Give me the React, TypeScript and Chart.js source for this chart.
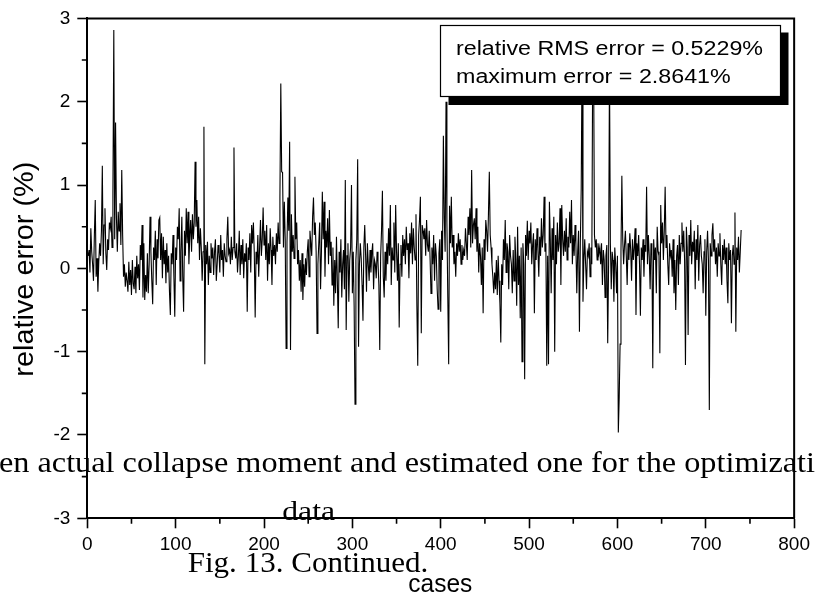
import React, { useEffect, useRef } from "react";
import { Chart, registerables } from "chart.js";

Chart.register(...registerables);

// relative error (%) for cases 1..740
const errorsA = [
  0.15, 0.22, -0.05, 0.48, 0.20, 0.05, -0.15, 0.40, 0.82, -0.10, 0.12, -0.28, 0.08, 0.30, 0.15, 0.45, 1.23, 0.05, 0.52, 0.72,
  0.18, -0.02, 0.35, 0.22, 0.55, 0.48, 0.62, 0.25, 0.90, 2.86, 0.35, 1.75, 0.60, 0.20, 0.68, 0.45, 0.78, 0.28, 1.18, 0.40,
  -0.10, 0.05, -0.22, -0.05, -0.15, -0.28, 0.08, -0.20, -0.02, -0.32, 0.10, -0.18, -0.25, 0.02, -0.30, 0.15, -0.12, 0.05, -0.26, 0.28,
  0.10, 0.52, -0.35, 0.30, -0.38, -0.08, -0.28, 0.18, -0.30, 0.05, 0.62, 0.20, -0.15, -0.43, 0.25, 0.10, 0.45, -0.20, 0.35, 0.12,
  0.58, 0.61, 0.10, 0.42, -0.12, 0.38, 0.05, 0.22, -0.18, 0.30, -0.05, 0.15, -0.28, -0.56, 0.18, 0.05, 0.40, -0.10, -0.58, 0.25,
  0.10, 0.50, 0.35, 0.72, -0.15, 0.20, 0.62, -0.10, -0.52, 0.45, 0.15, 0.72, 0.30, 0.68, 0.05, 0.40, 0.58, 0.20, 0.65, 0.35,
  0.55, 1.28, 0.50, 0.82, 0.30, 0.62, 0.10, 0.48, 0.25, -0.15, 0.20, 1.70, -1.15, 0.28, 0.05, 0.32, -0.20, 0.15, -0.05, 0.30,
  0.12, 0.25, -0.08, 0.20, 0.35, -0.15, 0.05, 0.28, 0.18, -0.05, 0.40, 0.10, 0.22, -0.10, 0.30, 0.15, 0.08, 0.35, 0.62, 0.18,
  0.22, 0.05, 0.38, 0.10, 0.25, 1.45, 0.20, 0.12, 0.30, -0.05, 0.15, 0.45, -0.08, 0.28, 0.05, 0.35, -0.12, 0.18, 0.08, 0.30,
  -0.52, 0.25, 0.10, 0.42, -0.05, 0.52, 0.30, 0.55, 0.18, -0.59, 0.20, 0.05, 0.40, -0.10, 0.25, 0.58, 0.15, 0.35, 0.73, 0.28,
];
const errorsB = [
  0.45, 0.10, 0.52, -0.15, 0.30, 0.05, 0.48, 0.22, -0.20, 0.38, 0.15, 0.28, 0.05, 0.42, 0.20, 0.55, 0.30, 0.85, 2.22, 1.16,
  1.15, 0.25, 0.80, 0.35, -0.96, 0.30, 0.85, 0.45, 1.52, -0.98, 0.65, 0.20, 0.40, 0.12, 1.10, 0.35, 0.55, 0.05, 0.22, -0.15,
  0.10, -0.28, 0.18, -0.38, 0.05, -0.22, 0.12, -0.08, 0.20, 0.35, -0.10, 0.45, 0.30, 0.15, 0.62, 0.85, 0.40, 0.55, 0.20, -0.78,
  0.05, 0.30, 0.55, -0.25, 0.20, 0.92, 0.35, 0.80, -0.10, 0.45, 0.25, 0.60, 0.05, 0.70, 0.15, 0.32, -0.20, 0.25, -0.45, 0.10,
  -0.30, 0.38, -0.15, -0.72, 0.20, -0.05, 0.35, -0.35, 0.05, 0.22, -0.25, 1.06, -0.74, 0.15, 0.30, -0.40, 0.10, 0.25, 1.00, -0.30,
  0.20, -0.45, -1.63, 0.10, 0.35, 1.31, -0.94, 0.05, 0.30, 0.12, -0.20, -0.63, 0.25, 0.52, 0.15, -0.28, 0.30, 0.05, -0.15, 0.22,
  -0.05, 0.18, 0.30, -0.25, 0.10, 0.05, -0.12, 0.20, 0.08, -0.20, -0.98, 0.15, 0.45, 0.93, -0.10, -0.35, 0.20, -0.15, 0.30, 0.05,
  0.48, 0.15, 0.76, -0.20, 0.25, 0.10, 0.55, -0.05, 0.76, 0.20, -0.15, 0.30, -0.71, 0.05, 0.28, -0.10, 0.40, 0.15, 0.35, 0.05,
  0.50, 0.22, 0.30, -0.12, 0.42, 0.18, 0.55, 0.05, 0.48, 0.25, 0.10, 0.65, -0.45, -1.17, 0.40, 0.58, 0.86, -0.78, 0.52, 0.45,
  0.35, 0.48, 0.15, 0.58, 0.28, 0.20, 0.45, 0.10, -0.30, 0.25, 0.05, 0.40, -0.15, 0.30, 0.15, -0.25, -0.49, 0.18, 0.35, -0.52,
];
const errorsC = [
  0.45, 0.10, 1.59, 0.60, 0.20, 2.00, 0.55, -0.35, -1.15, 0.75, 0.30, 0.86, 0.25, 0.40, 0.05, 0.20, -0.10, 0.30, 0.15, 0.42,
  0.20, 0.35, 0.05, 0.28, 0.10, 0.22, 0.15, 0.48, 0.30, 0.10, 0.62, 0.40, 0.72, 0.25, 1.18, 0.30, 0.52, 0.60, 0.35, 0.72,
  0.20, 0.50, -0.05, 0.30, 0.15, -0.20, 0.25, -0.54, 0.35, 0.10, 0.58, 0.45, 0.20, 0.65, 1.16, 0.40, 0.25, 0.05, -0.10, -0.30,
  -0.05, -0.25, 0.10, -0.32, 0.15, -0.15, -0.42, -0.89, 0.05, -0.20, 0.35, 0.10, 0.58, -0.05, 0.30, 0.20, -0.25, 0.40, 0.15, 0.05,
  -0.30, 0.22, -0.15, 0.38, 0.10, -0.45, 0.50, -0.20, 0.15, -0.60, 0.25, -1.12, 0.30, 0.05, -1.33, 0.40, 0.15, 0.57, 0.10, 0.45,
  0.30, 0.55, 0.05, 0.28, 0.42, -0.54, 0.35, 0.10, 0.48, 0.22, -0.10, 0.38, 0.15, 0.60, 0.25, 0.40, 0.86, 0.20, 0.30, -1.17,
  0.15, -1.15, 0.80, 0.35, -0.30, 0.48, 0.10, 0.62, -1.00, 0.40, 0.05, 0.55, 0.20, 0.30, 0.72, -0.20, 0.76, 0.35, 0.15, 0.45,
  0.20, 0.60, 0.10, 0.38, 0.25, 0.68, 0.30, 0.82, 0.05, 0.40, 0.15, 0.52, 0.28, -0.30, 0.20, 0.45, -0.76, 0.30, 0.96, 2.60,
  -0.40, 0.10, 0.35, 0.05, -0.25, 0.20, 0.15, 0.30, -0.10, 0.25, 0.05, 2.50, 2.50, 0.40, 0.25, 0.35, 0.10, 0.30, 0.18, 0.25,
  0.05, 0.30, -0.20, 0.22, 0.10, -0.35, 0.15, 0.28, -0.90, 0.05, 2.40, 0.30, -0.25, 0.20, 0.10, -0.40, 0.25, 0.05, -0.30, 0.15,
];
const errorsD = [
  -1.97, -1.55, -0.91, 0.20, 1.11, 0.35, 0.05, 0.28, 0.45, 0.15, -0.20, 0.30, 0.10, 0.42, 0.22, -0.15, 0.35, 0.10, 0.25, 0.48,
  -0.56, 0.30, 0.15, 0.40, 0.05, -0.57, 0.25, 0.10, 0.35, -0.10, 0.28, 0.20, 0.98, 0.05, 0.40, 0.15, -0.25, 0.30, 0.20, -1.20,
  0.35, 0.10, 0.25, -0.30, 0.50, 0.20, 0.15, -1.02, 0.76, 0.30, 0.55, 0.10, 0.45, 0.98, 0.25, 0.40, 0.05, -0.20, 0.30, 0.15,
  0.22, -0.10, 0.35, -0.30, 0.10, -0.50, 0.15, 0.28, -0.20, 0.40, 0.05, 0.30, 0.55, 0.20, 0.45, 0.10, -1.16, 0.50, 0.25, -0.80,
  0.40, 0.15, 0.58, 0.05, 0.32, 0.20, 0.45, -0.25, 0.35, 0.10, 0.52, -0.15, 0.28, 0.40, 0.15, 0.05, -0.30, 0.20, 0.35, -0.57,
  0.20, 0.45, 0.10, -1.70, 0.30, 0.15, 0.40, 0.54, 0.20, 0.35, 0.05, 0.25, -0.10, 0.30, 0.15, 0.42, 0.05, -0.20, 0.28, 0.10,
  0.35, 0.05, 0.25, -0.15, -0.42, 0.30, 0.10, 0.22, -0.66, 0.15, 0.28, 0.05, 0.67, -0.76, 0.25, 0.10, 0.38, -0.05, 0.20, 0.46,
];
const errors = [...errorsA, ...errorsB, ...errorsC, ...errorsD];
const cases = errors.map((_, i) => i + 1);

const xTicks = [0, 100, 200, 300, 400, 500, 600, 700, 800];
const yTicks = [-3, -2, -1, 0, 1, 2, 3];
const legendLines = ["relative RMS error = 0.5229%", "maximum error = 2.8641%"];
const xTitle = "cases";
const yTitle = "relative error (%)";
const overlayLine = "en actual collapse moment and estimated one for the optimizati";
const overlayData = "data";
const overlayCaption = "Fig. 13. Continued.";

const SANS = '"Liberation Sans", Arial, sans-serif';
const SERIF = '"Liberation Serif", "Times New Roman", serif';

function fitText(ctx: CanvasRenderingContext2D, text: string, font: string, x: number, y: number, width: number, rotate = false) {
  ctx.save();
  ctx.font = font;
  ctx.fillStyle = "#000";
  ctx.textAlign = "left";
  ctx.textBaseline = "alphabetic";
  const w = ctx.measureText(text).width;
  ctx.translate(x, y);
  if (rotate) ctx.rotate(-Math.PI / 2);
  ctx.scale(width / w, 1);
  ctx.fillText(text, 0, 0);
  ctx.restore();
}

const decorPlugin = {
  id: "decor",
  afterDatasetsDraw(chart: any) {
    const ctx = chart.ctx as CanvasRenderingContext2D;
    // legend box with shadow
    ctx.save();
    ctx.fillStyle = "#000";
    ctx.fillRect(448.5, 32.5, 340, 72.5);
    ctx.fillStyle = "#fff";
    ctx.fillRect(440.5, 25.5, 340, 71);
    ctx.strokeStyle = "#000";
    ctx.lineWidth = 1.2;
    ctx.strokeRect(440.5, 25.5, 340, 71);
    ctx.restore();
    fitText(ctx, legendLines[0], `20px ${SANS}`, 456, 55, 307);
    fitText(ctx, legendLines[1], `20px ${SANS}`, 456, 82.7, 274.7);
  },
  afterDraw(chart: any) {
    const ctx = chart.ctx as CanvasRenderingContext2D;
    const { left, right, top, bottom } = chart.chartArea;
    const xs = chart.scales.x;
    const ys = chart.scales.y;
    ctx.save();
    ctx.strokeStyle = "#000";
    ctx.lineWidth = 2;
    ctx.beginPath();
    ctx.moveTo(left, top);
    ctx.lineTo(right, top);
    ctx.lineTo(right, bottom);
    ctx.stroke();
    // minor ticks
    ctx.lineWidth = 1.6;
    ctx.beginPath();
    xs.ticks.forEach((t: any) => {
      if (t.value % 100 !== 0) {
        const px = xs.getPixelForValue(t.value);
        ctx.moveTo(px, bottom);
        ctx.lineTo(px, bottom + 5.5);
      }
    });
    ys.ticks.forEach((t: any) => {
      if (t.value % 1 !== 0) {
        const py = ys.getPixelForValue(t.value);
        ctx.moveTo(left, py);
        ctx.lineTo(left - 5.5, py);
      }
    });
    ctx.stroke();
    ctx.restore();
    // axis titles
    fitText(ctx, xTitle, `25px ${SANS}`, 408.3, 591.7, 64);
    fitText(ctx, yTitle, `28px ${SANS}`, 33.3, 376.7, 215, true);
    // overlay caption text
    fitText(ctx, overlayLine, `30px ${SERIF}`, -1, 471.7, 816);
    fitText(ctx, overlayData, `28px ${SERIF}`, 282.3, 520, 52.7);
    fitText(ctx, overlayCaption, `30px ${SERIF}`, 187.7, 571.7, 240.6);
  },
};

export default function App() {
  const ref = useRef<HTMLCanvasElement | null>(null);
  useEffect(() => {
    if (!ref.current) return;
    const chart = new Chart(ref.current, {
      type: "line",
      data: {
        datasets: [
          {
            data: cases.map((c, i) => ({ x: c, y: errors[i] })),
            borderColor: "#000",
            borderWidth: 1.1,
            pointRadius: 0,
            tension: 0,
            fill: false,
          },
        ],
      },
      options: {
        animation: false,
        responsive: false,
        layout: { padding: { left: 0, right: 20.7, top: 15.7, bottom: 0 } },
        plugins: { legend: { display: false }, tooltip: { enabled: false } },
        scales: {
          x: {
            type: "linear",
            min: 0,
            max: 800,
            afterFit(scale: any) {
              scale.height = 83.7;
            },
            ticks: {
              stepSize: 50,
              autoSkip: false,
              maxRotation: 0,
              padding: 5,
              color: "#000",
              font: { family: SANS, size: 19 },
              callback: (v: any) => (xTicks.includes(Number(v)) ? String(v) : ""),
            },
            grid: {
              drawOnChartArea: false,
              drawTicks: true,
              tickLength: 10,
              tickWidth: 1.6,
              tickColor: (c: any) => (c.tick && c.tick.value % 100 === 0 ? "#000" : "rgba(0,0,0,0)"),
            },
            border: { display: true, color: "#000", width: 2 },
          },
          y: {
            type: "linear",
            min: -3,
            max: 3,
            afterFit(scale: any) {
              scale.width = 87.3;
            },
            ticks: {
              stepSize: 0.5,
              autoSkip: false,
              padding: 7,
              color: "#000",
              font: { family: SANS, size: 19 },
              callback: (v: any) => (yTicks.includes(Number(v)) ? String(v) : ""),
            },
            grid: {
              drawOnChartArea: false,
              drawTicks: true,
              tickLength: 10,
              tickWidth: 1.6,
              tickColor: (c: any) => (c.tick && c.tick.value % 1 === 0 ? "#000" : "rgba(0,0,0,0)"),
            },
            border: { display: true, color: "#000", width: 2 },
          },
        },
      },
      plugins: [decorPlugin],
    });
    return () => chart.destroy();
  }, []);
  return (
    <div style={{ position: "absolute", left: 0, top: 0, width: 815, height: 602, background: "#fff" }}>
      <canvas ref={ref} width={815} height={602} style={{ display: "block" }} />
    </div>
  );
}
